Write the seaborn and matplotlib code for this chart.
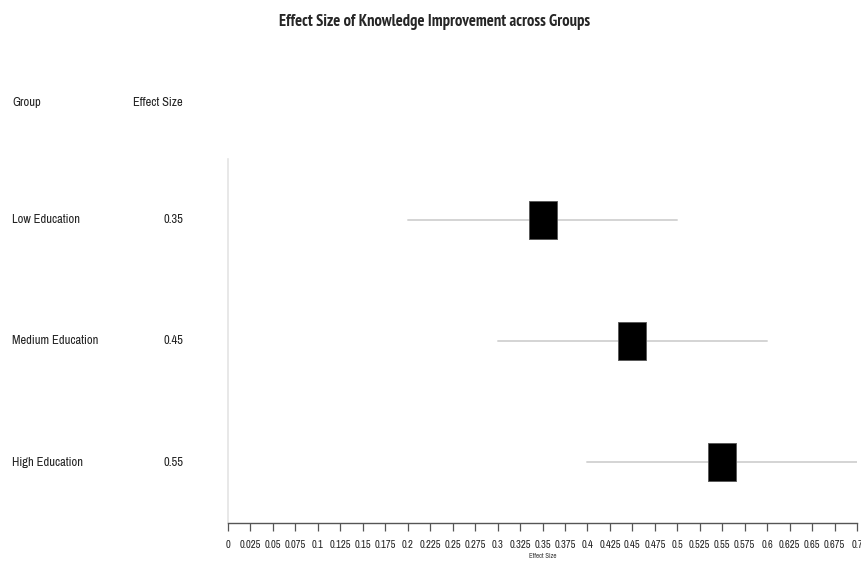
import matplotlib
matplotlib.use("Agg")
import matplotlib.pyplot as plt
import matplotlib.transforms as mtransforms
import seaborn as sns
import numpy as np
import pandas as pd

# Forest-plot data
groups = ["Low Education", "Medium Education", "High Education"]
effect_sizes = [0.35, 0.45, 0.55]
ci_lower = [0.20, 0.30, 0.40]
ci_upper = [0.50, 0.60, 0.70]
x_ticks = [round(0.025 * i, 3) for i in range(29)]

sns.set_theme(style="white")
plt.rcParams["font.family"] = ["Archivo Narrow", "PT Sans Narrow", "Roboto Condensed", "DejaVu Sans"]
title_family = ["PT Sans Narrow", "Roboto Condensed", "Archivo Narrow", "DejaVu Sans"]

df = pd.DataFrame({
    "group": groups,
    "effect": effect_sizes,
    "lo": ci_lower,
    "hi": ci_upper,
})
df["row"] = np.arange(1, len(df) + 1)

fig = plt.figure(figsize=(8.61, 5.62), dpi=100)
ax = fig.add_axes([228 / 861, 1 - 523 / 562, (857 - 228) / 861, (523 - 159) / 562])

# Confidence interval lines
for _, r in df.iterrows():
    sns.lineplot(x=[r["lo"], r["hi"]], y=[r["row"], r["row"]], ax=ax,
                 color="#d4d4d4", linewidth=1.4, zorder=1)

# Rectangular point-estimate markers
box = [(-0.355, -0.5), (0.355, -0.5), (0.355, 0.5), (-0.355, 0.5), (-0.355, -0.5)]
sns.scatterplot(data=df, x="effect", y="row", marker=box, s=760,
                color="black", edgecolor="#555555", linewidth=0.6, ax=ax, zorder=3)

ax.set_xlim(0, 0.7)
ax.set_ylim(3.5, 0.5)
ax.set_yticks([])
ax.set_xticks(x_ticks)
ax.set_xticklabels([f"{t:g}" for t in x_ticks], fontsize=7.6, color="#222222")
ax.tick_params(axis="x", direction="out", length=6, width=0.9, color="#555555", pad=6.5,
               bottom=True)
for side in ["top", "right"]:
    ax.spines[side].set_visible(False)
ax.spines["left"].set_color("#e4e4e4")
ax.spines["left"].set_linewidth(1.2)
ax.spines["bottom"].set_color("#555555")
ax.spines["bottom"].set_linewidth(1.0)
ax.set_xlabel("Effect Size", fontsize=5, labelpad=2, color="#333333")
ax.set_ylabel("")

# Left-hand table columns
fig.text(12 / 861, 1 - 102 / 562, "Group", fontsize=9, va="center", ha="left", color="#222222")
fig.text(183 / 861, 1 - 102 / 562, "Effect Size", fontsize=9, va="center", ha="right", color="#222222")
trans = mtransforms.blended_transform_factory(fig.transFigure, ax.transData)
for _, r in df.iterrows():
    fig.text(12 / 861, r["row"], r["group"], fontsize=9, va="center", ha="left",
             color="#222222", transform=trans)
    fig.text(183 / 861, r["row"], f"{r['effect']:.2f}", fontsize=9, va="center", ha="right",
             color="#222222", transform=trans)

fig.suptitle("Effect Size of Knowledge Improvement across Groups", x=435 / 861,
             y=1 - 22 / 562, va="center", fontsize=11.9, fontweight="bold",
             family=title_family)

fig.savefig("out.png", dpi=100)
